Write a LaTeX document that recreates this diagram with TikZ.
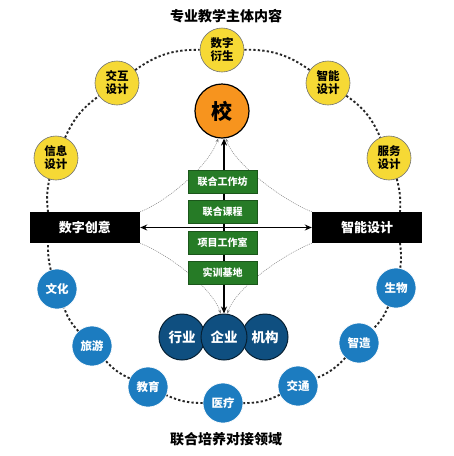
\documentclass[tikz,border=0pt]{standalone}
\usepackage{fontspec}
\setmainfont{Noto Sans CJK SC}
\usetikzlibrary{arrows.meta}
\definecolor{ylw}{HTML}{F6D935}
\definecolor{org}{HTML}{F7941E}
\definecolor{grn}{HTML}{267B26}
\definecolor{lblu}{HTML}{1C7CC0}
\definecolor{dblu}{HTML}{0F4F80}
\tikzset{
  ycirc/.style={circle,fill=ylw,draw=black!55,line width=0.6pt,minimum size=44pt,inner sep=0pt,align=center,font=\fontsize{11.5}{13}\selectfont\bfseries},
  bcirc/.style={circle,fill=lblu,draw=white,line width=0.6pt,minimum size=40pt,inner sep=0pt,text=white,font=\fontsize{11.5}{12}\selectfont\bfseries},
  dcirc/.style={circle,fill=dblu,draw=black!60!dblu,line width=1pt,minimum size=46pt,inner sep=0pt,text=white,font=\fontsize{13.5}{14}\selectfont\bfseries},
  gbox/.style={rectangle,fill=grn,draw=grn!70!black,line width=0.5pt,minimum width=69pt,minimum height=23pt,inner sep=0pt,text=white,font=\fontsize{10}{12}\selectfont\bfseries},
  kbox/.style={rectangle,fill=black,minimum width=110pt,minimum height=31pt,inner sep=0pt,text=white,font=\fontsize{13}{14}\selectfont\bfseries},
  ocirc/.style={circle,fill=org,draw=black,line width=1.2pt,minimum size=54pt,inner sep=0pt,font=\fontsize{21}{22}\selectfont\bfseries},
  ring/.style={line width=1.9pt,dash pattern=on 2.3pt off 2.2pt,black!85},
  thinc/.style={gray,line width=0.5pt,dash pattern=on 1pt off 1pt,-{Stealth[length=4pt,width=3pt]}},
  mainarr/.style={line width=1.4pt,{Stealth[length=7pt,width=6pt]}-{Stealth[length=7pt,width=6pt]}},
  ttl/.style={font=\fontsize{14}{16}\selectfont\bfseries}
}
\begin{document}
\begin{tikzpicture}[x=1pt,y=-1pt]
\useasboundingbox (0,0) rectangle (454,456);
\fill[white] (0,0) rectangle (454,456);
\node[ttl] (t1) at (226,16) {专业教学主体内容};
\node[ttl] (t2) at (226,439) {联合培养对接领域};

% yellow ring
\node[ycirc] (y1) at (222,50) {数字\\衍生};
\node[ycirc] (y2) at (117,83) {交互\\设计};
\node[ycirc] (y3) at (328,83) {智能\\设计};
\node[ycirc] (y4) at (56,158) {信息\\设计};
\node[ycirc] (y5) at (389,158) {服务\\设计};

% blue ring
\node[bcirc] (b1) at (57,289) {文化};
\node[bcirc] (b2) at (92,346) {旅游};
\node[bcirc] (b3) at (148,387) {教育};
\node[bcirc] (b4) at (223,403) {医疗};
\node[bcirc] (b5) at (298,386) {交通};
\node[bcirc] (b6) at (359,343) {智造};
\node[bcirc] (b7) at (396,288) {生物};

\coordinate (Lt) at (48,212);
\coordinate (Lb) at (48,243);
\coordinate (Rt) at (400,212);
\coordinate (Rb) at (400,243);

% ring connectors (clockwise on screen)
\draw[ring] (y1) to[bend left=18] (y3);
\draw[ring] (y3) to[bend left=16] (y5);
\draw[ring] (y5) to[bend left=9] (Rt);
\draw[ring] (Rb) to[bend left=7] (b7);
\draw[ring] (b7) to[bend left=11] (b6);
\draw[ring] (b6) to[bend left=12] (b5);
\draw[ring] (b5) to[bend left=13] (b4);
\draw[ring] (b4) to[bend left=12] (b3);
\draw[ring] (b3) to[bend left=11] (b2);
\draw[ring] (b2) to[bend left=11] (b1);
\draw[ring] (b1) to[bend left=7] (Lb);
\draw[ring] (Lt) to[bend left=9] (y4);
\draw[ring] (y4) to[bend left=15] (y2);
\draw[ring] (y2) to[bend left=18] (y1);

% centre
\node[ocirc] (S) at (222,111) {校};
\node[kbox] (L) at (85,227.5) {数字创意};
\node[kbox] (R) at (367,227.5) {智能设计};

\node[dcirc] (d1) at (182,337) {行业};
\node[dcirc] (d3) at (265,337) {机构};
\node[dcirc] (d2) at (224,337) {企业};

% thin curved arrows
\draw[thinc] (L.north east) .. controls +(30,-12) and +(-8,25) .. (S.-98);
\draw[thinc] (R.north west) .. controls +(-30,-12) and +(8,25) .. (S.-82);
\draw[thinc] (L.south east) .. controls +(30,12) and +(-8,-25) .. (d2.98);
\draw[thinc] (R.south west) .. controls +(-30,12) and +(8,-25) .. (d2.82);

% main arrows
\draw[mainarr] (S.south -| d2.north) -- (d2.north);
\draw[mainarr] (L.east) -- (R.west);

% green boxes
\node[gbox] (g1) at (222.5,181.5) {联合工作坊};
\node[gbox] (g2) at (222.5,211.5) {联合课程};
\node[gbox] (g3) at (222.5,242.5) {项目工作室};
\node[gbox] (g4) at (222.5,272.5) {实训基地};
\end{tikzpicture}
\end{document}
